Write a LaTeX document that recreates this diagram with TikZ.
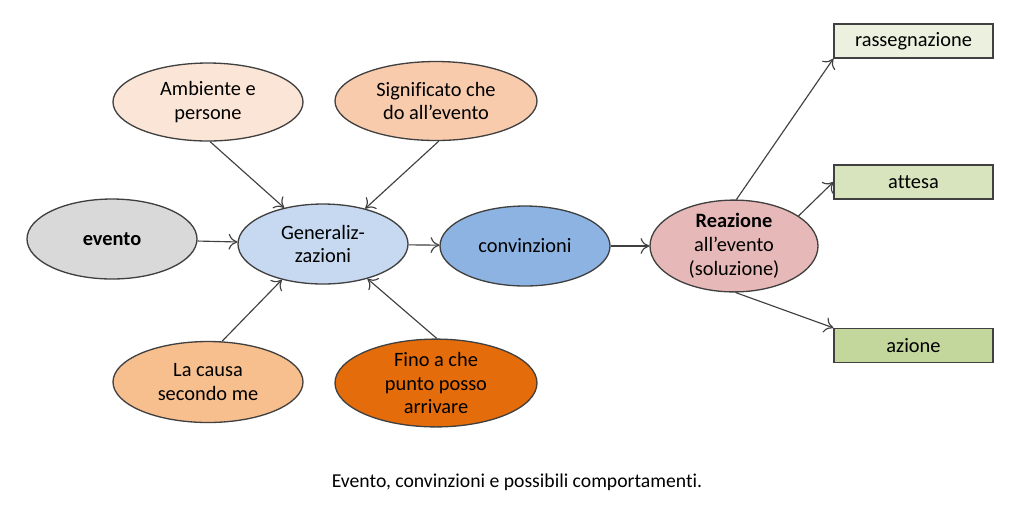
\documentclass[tikz,border=0pt]{standalone}
\usepackage{fontspec}
\setmainfont[Ligatures=NoCommon]{Carlito}
\usetikzlibrary{%
  arrows.meta,%
  shapes.geometric% wg. ellipse
}
\definecolor{grigio}{HTML}{D9D9D9}
\definecolor{pesca}{HTML}{FBE5D6}
\definecolor{albicocca}{HTML}{F8CBAD}
\definecolor{salmone}{HTML}{F7BE8E}
\definecolor{arancio}{HTML}{E46C0A}
\definecolor{celeste}{HTML}{C6D9F1}
\definecolor{azzurro}{HTML}{8DB3E2}
\definecolor{rosa}{HTML}{E6B9B8}
\definecolor{verde1}{HTML}{EBF1DE}
\definecolor{verde2}{HTML}{D7E4BD}
\definecolor{verde3}{HTML}{C3D69B}
\definecolor{bordo}{HTML}{404040}

\begin{document}
\begin{tikzpicture}[
    x=0.02cm,y=-0.02cm,
    >={To[length=5pt,width=9pt]},
    font=\fontsize{11.6}{13.6}\selectfont,
    bolla/.style={ellipse,draw=bordo,line width=0.75pt,inner sep=0pt,
        align=center,minimum width=#1*0.02cm},
    bolla/.default=170,
    scatola/.style={rectangle,draw=bordo,line width=0.75pt,inner sep=0pt,
        minimum width=159*0.02cm,minimum height=34*0.02cm},
    freccia/.style={->,draw=bordo,line width=0.65pt}
  ]
    \useasboundingbox (0,0) rectangle (1024,512);

    % catena centrale
    \node (evento) [bolla,fill=grigio,minimum height=1.6cm]    at (112,239) {\textbf{evento}};
    \node (gen)    [bolla,fill=celeste,minimum height=1.6cm]   at (323,244) {Generaliz-\\zazioni};
    \node (conv)   [bolla,fill=azzurro,minimum height=1.6cm]   at (525,246) {convinzioni};
    \node (reaz)   [bolla=168,fill=rosa,minimum height=1.6cm]  at (734,246)
        {\textbf{Reazione}\\all’evento\\(soluzione)};

    % influenze
    \node (amb)   [bolla=190,fill=pesca,minimum height=1.56cm]     at (208,102) {Ambiente e\\persone};
    \node (sign)  [bolla=202,fill=albicocca,minimum height=1.58cm] at (436,101) {Significato che\\do all’evento};
    \node (causa) [bolla=190,fill=salmone,minimum height=1.62cm]   at (208,382) {La causa\\secondo me};
    \node (fino)  [bolla=202,fill=arancio,minimum height=1.64cm]   at (436,383) {Fino a che\\punto posso\\arrivare};

    % comportamenti
    \node (rass)   [scatola,fill=verde1] at (913.5,41)  {rassegnazione};
    \node (attesa) [scatola,fill=verde2] at (913.5,182) {attesa};
    \node (azione) [scatola,fill=verde3] at (913.5,345.5) {azione};

    \node (didascalia) [font=\fontsize{11.2}{13}\selectfont] at (517,482)
        {Evento, convinzioni e possibili comportamenti.};

    \begin{scope}[every path/.style=freccia]
        \draw (evento) -- (gen);
        \draw (gen)    -- (conv);
        \draw (conv)   -- (reaz);
        \draw (amb.-87)   -- (gen.137);
        \draw (sign.-86)  -- (gen.40);
        \draw (causa.71)  -- (gen.-139);
        \draw (fino.89)   -- (gen.-38);
        \draw (reaz.87)   -- (rass.south west);
        \draw (reaz.25)   -- (attesa.west);
        \draw (reaz.-88)  -- (azione.north west);
    \end{scope}
\end{tikzpicture}
\end{document}
